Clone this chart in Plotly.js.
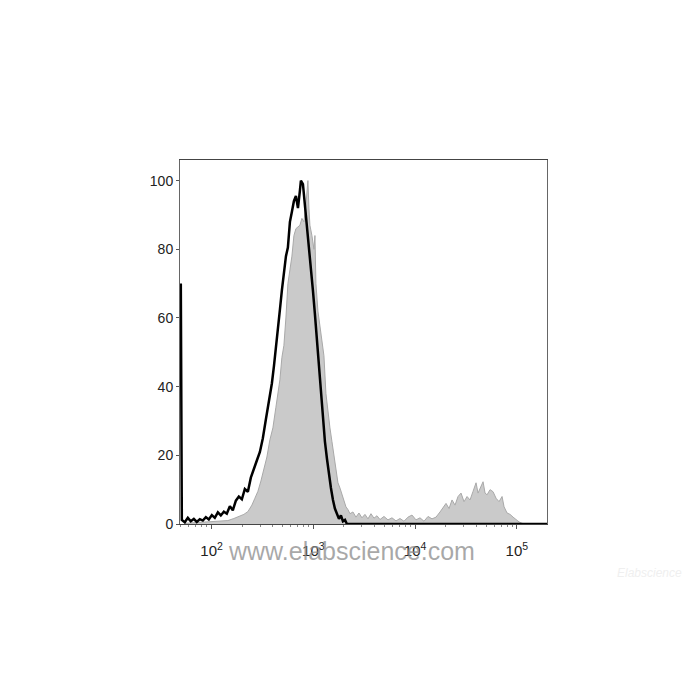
<!DOCTYPE html>
<html>
<head>
<meta charset="utf-8">
<script src="https://cdn.plot.ly/plotly-3.0.1.min.js"></script>
<style>html,body{margin:0;padding:0;background:#fff;}#chart{width:700px;height:700px;}</style>
</head>
<body>
<div id="chart"></div>
<script>
// Fluorescence intensity (log10 exponent) and normalized counts (% of mode)
const blackLogX = [1.698,1.708,1.737,1.767,1.796,1.826,1.855,1.885,1.914,1.944,1.973,2.003,2.032,2.062,2.091,2.121,2.150,2.180,2.209,2.239,2.268,2.298,2.327,2.357,2.386,2.416,2.445,2.475,2.504,2.534,2.563,2.593,2.613,2.632,2.652,2.672,2.691,2.711,2.731,2.750,2.770,2.790,2.809,2.829,2.849,2.868,2.878,2.898,2.917,2.937,2.957,2.976,2.996,3.016,3.035,3.055,3.075,3.094,3.114,3.134,3.153,3.173,3.193,3.212,3.232,3.252,3.271,3.291,3.311,3.330,5.297];
const blackY =    [70,1.2,0.5,1.8,0.8,1.5,0.6,1.4,1.0,2.0,1.3,2.6,1.8,3.4,2.5,3.6,3.0,5.2,4.0,6.8,8.0,7.2,10.2,9.4,13.5,15.8,18.5,21.0,25.0,30.5,35.5,41.0,46.0,52.0,57.0,62.5,68.0,73.5,78.0,80.5,88.0,91.0,94.0,95.5,92.0,97.0,100,99.0,93.0,87.0,82.0,76.0,68.0,61.0,54.0,44.0,37.0,30.0,24.0,19.0,14.5,10.5,7.0,4.5,3.0,1.5,2.5,0.8,1.2,0,0];

const grayPx = [185,195,205,215,222,228,234,240,244,248,252,255,258,261,264,267,270,273,276,278,280,282,284,286,288,290,292,294,296,298,300,302,304,306,308,309,310,312,314,315,316,318,320,322,324,326,328,330,332,334,336,338,340,342,344,346,348,350,353,356,359,362,365,368,371,374,377,380,384,388,392,396,400,404,408,412,416,420,424,428,432,436,440,443,446,449,452,455,458,461,464,467,470,473,476,478,480,483,485,487,490,493,496,499,502,504,507,510,513,516,519,522,525,547];
const grayY =  [0.2,0.4,0.5,0.6,0.8,1.0,1.6,2.2,2.8,3.6,5.5,7.5,9.5,12.5,16.0,19.5,24.5,28.0,34.0,38.0,42.0,48.5,52.0,60.0,70.0,74.0,78.0,84.0,86.0,86.5,87.0,89.0,88.0,93.0,100,92.0,87.0,84.0,80.0,84.0,70.0,62.0,57.5,53.0,49.0,38.0,32.0,28.0,24.0,20.0,15.0,12.0,10.5,8.5,7.0,5.0,4.2,3.0,3.5,2.0,3.2,1.8,2.8,1.5,3.0,1.7,2.4,1.3,2.2,1.2,1.8,0.9,1.6,0.8,2.0,2.6,1.2,1.8,0.8,2.2,1.5,2.0,3.5,4.8,6.0,4.5,7.0,5.5,8.0,9.0,6.5,8.0,7.0,9.5,12.0,9.0,10.5,12.3,9.0,8.5,10.0,9.4,7.5,6.5,8.0,5.0,3.2,2.8,2.0,1.2,0.6,0.2,0,0];

const xTickVals = [100, 1000, 10000, 100000];
const xTickText = ['10<sup>2</sup>', '10<sup>3</sup>', '10<sup>4</sup>', '10<sup>5</sup>'];
const yTickVals = [0, 20, 40, 60, 80, 100];
const yTickText = ['0', '20', '40', '60', '80', '100'];

// gray series bins were read on the picture's pixel grid; convert to log10 exponent
const grayLogX = grayPx.map(p => 2 + (p - 211.7) / 101.7);

const minorX = [];
for (let e = 1; e <= 5; e++) for (let k = 2; k <= 9; k++) minorX.push(k * Math.pow(10, e));

const grayTrace = {
  x: grayLogX.map(v => Math.pow(10, v)), y: grayY,
  type: 'scatter', mode: 'lines', fill: 'tozeroy',
  fillcolor: '#cacaca', line: {color: '#a9a9a9', width: 1}, hoverinfo: 'skip'
};
const blackTrace = {
  x: blackLogX.map(v => Math.pow(10, v)), y: blackY,
  type: 'scatter', mode: 'lines',
  line: {color: '#000000', width: 2.5}, hoverinfo: 'skip'
};

const layout = {
  width: 700, height: 700,
  margin: {l: 180, r: 153, t: 160, b: 176},
  paper_bgcolor: '#ffffff', plot_bgcolor: '#ffffff',
  showlegend: false,
  font: {family: 'Arial, Liberation Sans, sans-serif', color: '#222', size: 13},
  xaxis: {
    type: 'log', range: [1.69, 5.296],
    tickmode: 'array', tickvals: xTickVals, ticktext: xTickText,
    ticks: 'outside', ticklen: 4, tickcolor: '#555',
    ticklabelstandoff: 9,
    showgrid: false, zeroline: false,
    showline: true, linecolor: '#444', linewidth: 1, mirror: true,
    tickfont: {size: 15, color: '#222'},
    minor: {tickmode: 'array', tickvals: minorX, ticks: 'outside', ticklen: 2, tickcolor: '#888', showgrid: false}
  },
  yaxis: {
    range: [0, 106],
    tickmode: 'array', tickvals: yTickVals, ticktext: yTickText,
    ticks: 'outside', ticklen: 3, tickcolor: '#555',
    showgrid: false, zeroline: false,
    showline: true, linecolor: '#666', linewidth: 1, mirror: true,
    tickfont: {size: 14, color: '#222'}
  },
  annotations: [
    {text: 'www.elabscience.com', xref: 'paper', yref: 'paper', x: 0.466, y: -0.074,
     xanchor: 'center', yanchor: 'middle', showarrow: false,
     font: {size: 25, color: 'rgba(140,140,140,0.75)', family: 'Arial, Liberation Sans, sans-serif'}},
    {text: '<i>Elabscience</i>', xref: 'paper', yref: 'paper', x: 1.28, y: -0.135,
     xanchor: 'center', yanchor: 'middle', showarrow: false,
     font: {size: 12, color: '#efefef', family: 'Arial, Liberation Sans, sans-serif'}}
  ]
};

Plotly.newPlot('chart', [grayTrace, blackTrace], layout, {staticPlot: true, displayModeBar: false});
</script>
</body>
</html>
